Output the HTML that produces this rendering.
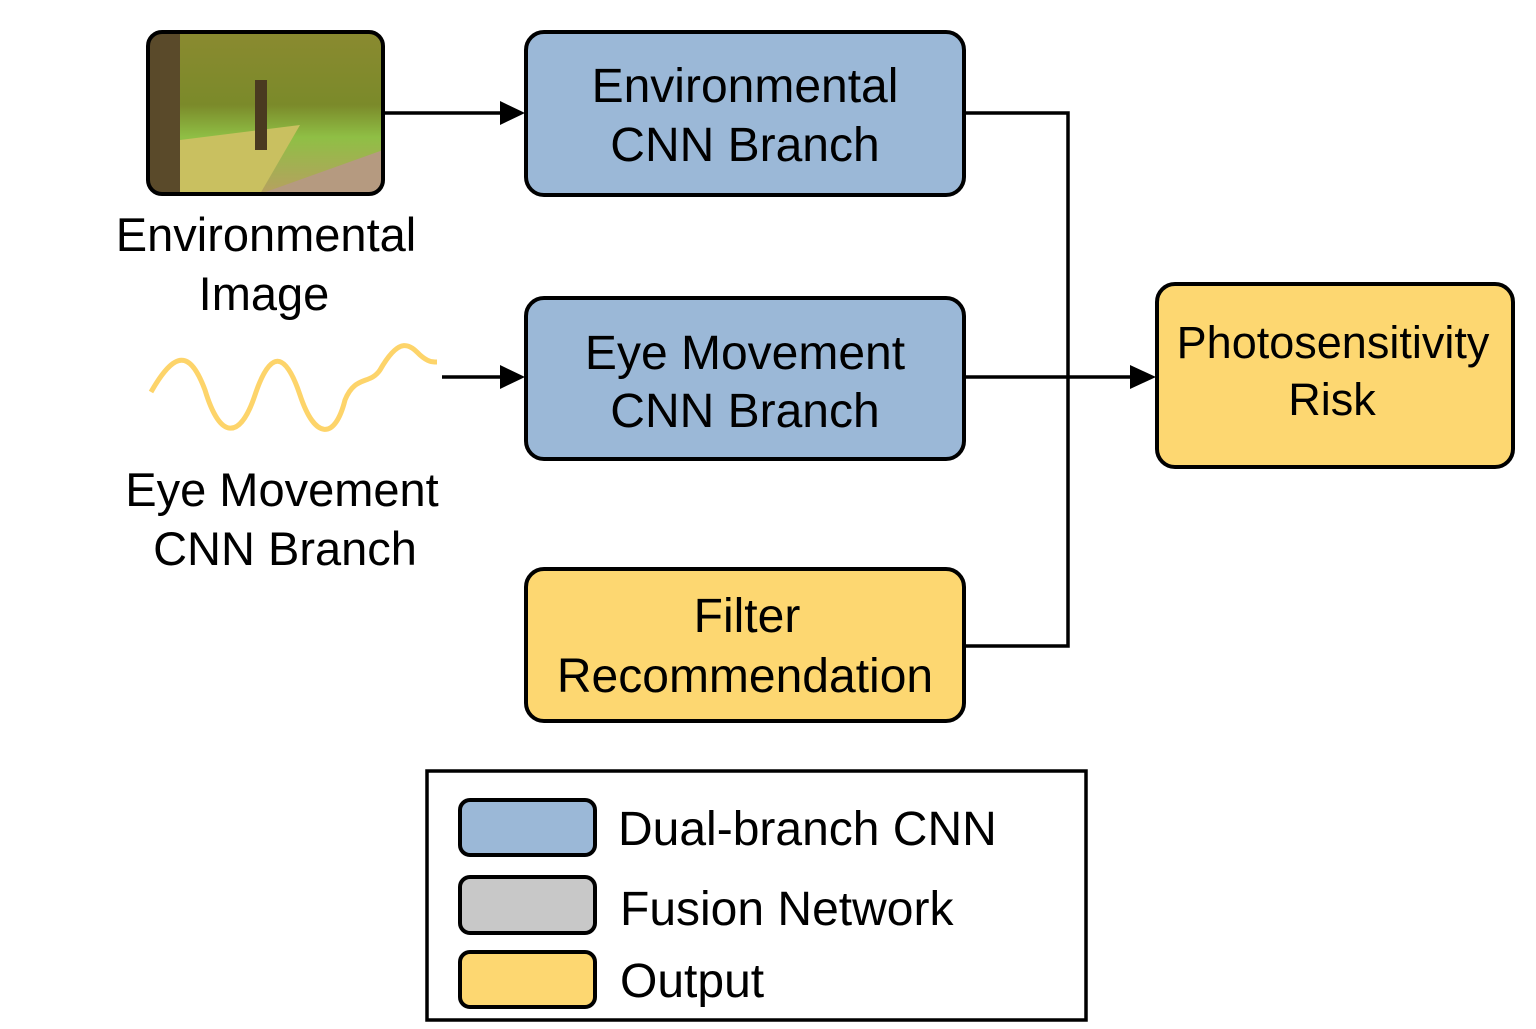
<!DOCTYPE html>
<html><head><style>
body{margin:0;width:1536px;height:1024px;background:#fff;overflow:hidden;font-family:"Liberation Sans",sans-serif}
</style></head><body>
<svg width="1536" height="1024" viewBox="0 0 1536 1024" xmlns="http://www.w3.org/2000/svg" font-family="Liberation Sans, sans-serif">
<defs>
<linearGradient id="sky" x1="0" y1="0" x2="0" y2="1">
<stop offset="0" stop-color="#8a8a30"/><stop offset="0.45" stop-color="#7b8a2a"/><stop offset="0.65" stop-color="#8fbf45"/><stop offset="1" stop-color="#b7a060"/>
</linearGradient>
<clipPath id="cp"><rect x="148" y="32" width="235" height="162" rx="14"/></clipPath>
</defs>
<!-- image -->
<g clip-path="url(#cp)">
<rect x="148" y="32" width="235" height="162" fill="url(#sky)"/>
<path d="M260,194 L383,150 L383,194z" fill="#b59a80"/>
<path d="M180,140 L300,125 L260,194 L180,194z" fill="#c9c060"/>
<rect x="150" y="34" width="30" height="158" fill="#5a4a2a"/>
<rect x="255" y="80" width="12" height="70" fill="#4a3a20"/>
</g>
<rect x="148" y="32" width="235" height="162" rx="14" fill="none" stroke="#000" stroke-width="4"/>
<text x="266" y="251" font-size="47" text-anchor="middle">Environmental</text>
<text x="264" y="310" font-size="47" text-anchor="middle">Image</text>
<!-- wave -->
<path d="M151,392 C175,350 190,350 205,390 C220,440 240,440 255,395 C270,350 285,350 300,395 C315,440 335,440 345,400 C355,375 370,385 380,370 C400,335 410,345 420,355 C428,362 432,362 437,362" fill="none" stroke="#fdd46a" stroke-width="5"/>
<text x="282" y="506" font-size="47" text-anchor="middle">Eye Movement</text>
<text x="285" y="565" font-size="47" text-anchor="middle">CNN Branch</text>
<!-- arrows -->
<line x1="384" y1="113" x2="505" y2="113" stroke="#000" stroke-width="3.5"/>
<path d="M500,101 L525,113 L500,125z" fill="#000"/>
<line x1="442" y1="377" x2="505" y2="377" stroke="#000" stroke-width="3.5"/>
<path d="M500,365 L525,377 L500,389z" fill="#000"/>
<polyline points="964,113 1068,113 1068,646 964,646" fill="none" stroke="#000" stroke-width="3.5"/>
<line x1="964" y1="377" x2="1135" y2="377" stroke="#000" stroke-width="3.5"/>
<path d="M1130,365 L1156,377 L1130,389z" fill="#000"/>
<!-- boxes -->
<rect x="526" y="32" width="438" height="163" rx="18" fill="#9bb8d7" stroke="#000" stroke-width="4"/>
<text x="745" y="102" font-size="48" text-anchor="middle">Environmental</text>
<text x="745" y="161" font-size="48" text-anchor="middle">CNN Branch</text>
<rect x="526" y="298" width="438" height="161" rx="18" fill="#9bb8d7" stroke="#000" stroke-width="4"/>
<text x="745" y="369" font-size="48" text-anchor="middle">Eye Movement</text>
<text x="745" y="427" font-size="48" text-anchor="middle">CNN Branch</text>
<rect x="526" y="569" width="438" height="152" rx="18" fill="#fdd771" stroke="#000" stroke-width="4"/>
<text x="747" y="632" font-size="48" text-anchor="middle">Filter</text>
<text x="745" y="692" font-size="48" text-anchor="middle">Recommendation</text>
<rect x="1157" y="284" width="356" height="183" rx="18" fill="#fdd771" stroke="#000" stroke-width="4"/>
<text x="1333" y="358" font-size="45" text-anchor="middle">Photosensitivity</text>
<text x="1332" y="415" font-size="45" text-anchor="middle">Risk</text>
<!-- legend -->
<rect x="427" y="771" width="659" height="249" fill="#fff" stroke="#000" stroke-width="3.5"/>
<rect x="460" y="800" width="135" height="55" rx="10" fill="#9bb8d7" stroke="#000" stroke-width="4"/>
<text x="618" y="845" font-size="48">Dual-branch CNN</text>
<rect x="460" y="877" width="135" height="56" rx="10" fill="#c8c8c8" stroke="#000" stroke-width="4"/>
<text x="620" y="925" font-size="48">Fusion Network</text>
<rect x="460" y="952" width="135" height="55" rx="10" fill="#fdd771" stroke="#000" stroke-width="4"/>
<text x="620" y="997" font-size="48">Output</text>
</svg>
</body></html>
